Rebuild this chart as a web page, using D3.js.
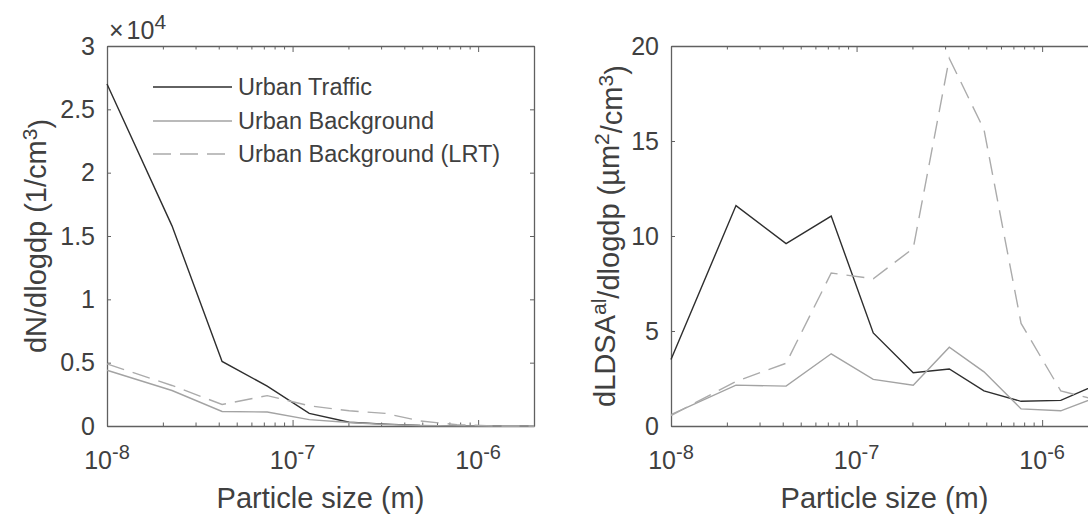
<!DOCTYPE html>
<html>
<head>
<meta charset="utf-8">
<script src="https://cdn.jsdelivr.net/npm/d3@7"></script>
<style>
  body { margin: 0; background: #fff; }
  svg text { font-family: "Liberation Sans", Arial, sans-serif; fill: #404040; }
</style>
</head>
<body>
<div id="canvas"></div>
<script>
"use strict"

/* drawing config */
let svgWidth = 1088;
let svgHeight = 514;
let plotTop = 46, plotBottom = 426;
let panelWidth = 427;
let leftX = 107, rightX = 671;

/* data: particle size bins (m) */
let sizes = [1e-8, 2.24e-8, 4.17e-8, 7.3e-8, 1.23e-7, 2.02e-7, 3.16e-7, 4.86e-7, 7.7e-7, 1.26e-6, 2e-6];

// number concentration, 1/cm3
let numTraffic    = [27000, 15800, 5100, 3150, 1000, 300, 150, 50, 10, 0, 0];
let numBackground = [4400, 2800, 1150, 1100, 500, 280, 120, 40, 10, 0, 0];
let numLRT        = [4900, 3200, 1700, 2400, 1600, 1200, 1000, 400, 100, 0, 0];

// LDSA, um2/cm3
let ldsaTraffic    = [3.5, 11.6, 9.6, 11.05, 4.9, 2.8, 3.0, 1.85, 1.3, 1.35, 2.2];
let ldsaBackground = [0.6, 2.15, 2.1, 3.8, 2.45, 2.15, 4.15, 2.85, 0.9, 0.8, 1.55];
let ldsaLRT        = [0.55, 2.35, 3.3, 8.05, 7.75, 9.35, 19.35, 15.6, 5.4, 1.85, 1.35];

let seriesNames = ["Urban Traffic", "Urban Background", "Urban Background (LRT)"];
let xMajor = [1e-8, 1e-7, 1e-6];
let xExps = ["-8", "-7", "-6"];
let yTicksLeft = [0, 5000, 10000, 15000, 20000, 25000, 30000];
let yTicksRight = [0, 5, 10, 15, 20];

let styles = [
    { color: "#2e2e2e", dash: null },
    { color: "#a3a3a3", dash: null },
    { color: "#ababab", dash: "18,9" }
];

let axisColor = "#606060";

let svg = d3.select("#canvas")
    .append("svg")
    .attr("width", svgWidth)
    .attr("height", svgHeight);

// minor + major ticks over 1e-8 .. 2e-6
let xTicks = [];
for (let e = -8; e <= -6; e++) {
    for (let m = 1; m <= 9; m++) {
        let v = m * Math.pow(10, e);
        if (v <= 2.0001e-6) xTicks.push(v);
    }
}

function drawPanel(x0, yMax, yTicks, yFmt, series) {
    let xScale = d3.scaleLog()
        .domain([1e-8, 2e-6])
        .range([x0, x0 + panelWidth]);
    let yScale = d3.scaleLinear()
        .domain([0, yMax])
        .range([plotBottom, plotTop]);

    let isMajor = d => xMajor.some(m => Math.abs(m - d) / m < 1e-6);

    // bottom and top axes
    let bottom = svg.append("g")
        .attr("transform", "translate(0," + plotBottom + ")")
        .call(d3.axisBottom(xScale).tickValues(xTicks).tickSize(-6).tickSizeOuter(0).tickFormat(""));
    let top = svg.append("g")
        .attr("transform", "translate(0," + plotTop + ")")
        .call(d3.axisTop(xScale).tickValues(xTicks).tickSize(-6).tickSizeOuter(0).tickFormat(""));
    bottom.selectAll(".tick line").filter(d => !isMajor(d)).attr("y2", -3.5);
    top.selectAll(".tick line").filter(d => !isMajor(d)).attr("y2", 3.5);

    // left and right axes
    let left = svg.append("g")
        .attr("transform", "translate(" + x0 + ",0)")
        .call(d3.axisLeft(yScale).tickValues(yTicks).tickSize(-4).tickSizeOuter(0).tickPadding(12).tickFormat(yFmt));
    let right = svg.append("g")
        .attr("transform", "translate(" + (x0 + panelWidth) + ",0)")
        .call(d3.axisRight(yScale).tickValues(yTicks).tickSize(-4).tickSizeOuter(0).tickFormat(""));

    [bottom, top, left, right].forEach(g => {
        g.selectAll("path.domain").attr("stroke", axisColor).attr("stroke-width", 1.3);
        g.selectAll(".tick line").attr("stroke", axisColor).attr("stroke-width", 1);
    });
    left.selectAll("text")
        .style("font-family", "'Liberation Sans', Arial, sans-serif")
        .style("font-size", "25px")
        .attr("fill", "#404040");

    // x tick labels 10^n
    let xl = svg.append("g").selectAll("text")
        .data(xMajor)
        .join("text")
        .attr("x", d => xScale(d))
        .attr("y", 469)
        .attr("text-anchor", "middle")
        .style("font-size", "25px");
    xl.append("tspan").text("10");
    xl.append("tspan")
        .attr("dy", "-0.5em")
        .style("font-size", "20px")
        .text((d, i) => xExps[i]);

    // x label
    svg.append("text")
        .attr("x", x0 + panelWidth / 2)
        .attr("y", 508)
        .attr("text-anchor", "middle")
        .style("font-size", "29px")
        .text("Particle size (m)");

    // data lines
    let line = d3.line()
        .x((d, i) => xScale(sizes[i]))
        .y(d => yScale(d));
    series.forEach((vals, i) => {
        svg.append("path")
            .datum(vals)
            .attr("fill", "none")
            .attr("stroke", styles[i].color)
            .attr("stroke-width", 1.4)
            .attr("stroke-dasharray", styles[i].dash)
            .attr("d", line);
    });
}

drawPanel(leftX, 30000, yTicksLeft, d => String(d / 1e4), [numTraffic, numBackground, numLRT]);
drawPanel(rightX, 20, yTicksRight, d => String(d), [ldsaTraffic, ldsaBackground, ldsaLRT]);

/* x10^4 multiplier */
let mult = svg.append("text")
    .attr("x", 109)
    .attr("y", 39)
    .style("font-size", "25px");
mult.append("tspan").text("\u00d7");
mult.append("tspan").attr("dx", 3).text("10");
mult.append("tspan").attr("dy", "-0.5em").style("font-size", "21px").text("4");

/* y labels */
let yl1 = svg.append("text")
    .attr("transform", "translate(46," + ((plotTop + plotBottom) / 2) + ") rotate(-90)")
    .attr("text-anchor", "middle")
    .style("font-size", "29px");
yl1.append("tspan").text("dN/dlogdp (1/cm");
yl1.append("tspan").attr("dy", "-0.45em").style("font-size", "21px").text("3");
yl1.append("tspan").attr("dy", "0.45em").text(")");

let yl2 = svg.append("text")
    .attr("transform", "translate(615," + ((plotTop + plotBottom) / 2) + ") rotate(-90)")
    .attr("text-anchor", "middle")
    .style("font-size", "29px");
yl2.append("tspan").text("dLDSA");
yl2.append("tspan").attr("dy", "-0.45em").style("font-size", "21px").text("al");
yl2.append("tspan").attr("dy", "0.45em").text("/dlogdp (\u00b5m");
yl2.append("tspan").attr("dy", "-0.45em").style("font-size", "21px").text("2");
yl2.append("tspan").attr("dy", "0.45em").text("/cm");
yl2.append("tspan").attr("dy", "-0.45em").style("font-size", "21px").text("3");
yl2.append("tspan").attr("dy", "0.45em").text(")");

/* legend */
let legend = svg.append("g");
let rowY = [87, 121, 154];
legend.selectAll("line")
    .data(seriesNames)
    .join("line")
    .attr("x1", 153)
    .attr("x2", 232)
    .attr("y1", (d, i) => rowY[i])
    .attr("y2", (d, i) => rowY[i])
    .attr("stroke", (d, i) => styles[i].color)
    .attr("stroke-width", 1.4)
    .attr("stroke-dasharray", (d, i) => styles[i].dash);
legend.selectAll("text")
    .data(seriesNames)
    .join("text")
    .attr("x", 238)
    .attr("y", (d, i) => rowY[i] + 8)
    .style("font-size", "23.5px")
    .text(d => d);
</script>
</body>
</html>
